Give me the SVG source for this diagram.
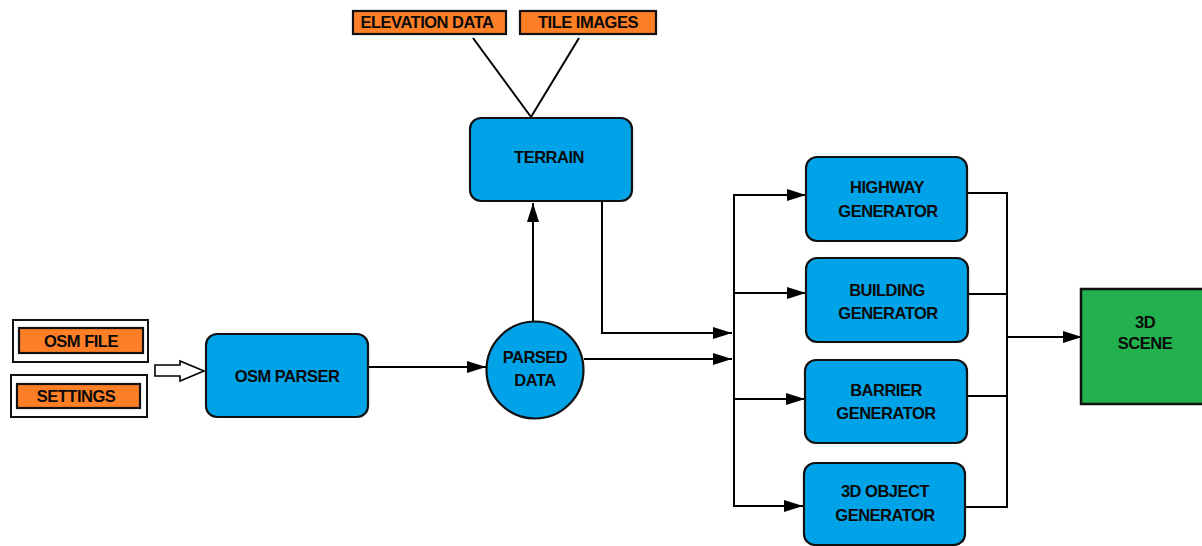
<svg xmlns="http://www.w3.org/2000/svg" width="1202" height="546" viewBox="0 0 1202 546">
<defs>
<marker id="ah" markerUnits="userSpaceOnUse" markerWidth="20" markerHeight="14" refX="19" refY="7" orient="auto">
<path d="M0,1 L19,7 L0,13 Z" fill="#000"/>
</marker>
<style>
.blue{fill:#00A2E8;stroke:#111;stroke-width:2.2}
.org{fill:#FF7F27;stroke:#111;stroke-width:2.2}
.frame{fill:#fff;stroke:#111;stroke-width:2}
.green{fill:#22B14C;stroke:#111;stroke-width:2.5}
text{font-family:"Liberation Sans",Arial,sans-serif;font-weight:bold;font-size:16.5px;letter-spacing:-0.5px;fill:#0a0a0a;text-anchor:middle}
.c line,.c polyline{stroke:#000;stroke-width:2;fill:none}
.arr{marker-end:url(#ah)}
</style>
</defs>
<rect width="1202" height="546" fill="#fff"/>

<g class="c" id="connectors">
<line x1="473" y1="38" x2="531" y2="117"/>
<line x1="579" y1="38" x2="531" y2="117"/>
<line class="arr" x1="368" y1="367" x2="486" y2="367"/>
<line class="arr" x1="533" y1="322" x2="533" y2="203"/>
<polyline class="arr" points="602,202 602,333 732,333"/>
<line class="arr" x1="584" y1="359" x2="732" y2="359"/>
<line x1="734" y1="194" x2="734" y2="507"/>
<line class="arr" x1="733" y1="195" x2="806" y2="195"/>
<line class="arr" x1="733" y1="293" x2="806" y2="293"/>
<line class="arr" x1="733" y1="399" x2="805" y2="399"/>
<line class="arr" x1="733" y1="506" x2="803" y2="506"/>
<line x1="967" y1="193" x2="1008" y2="193"/>
<line x1="968" y1="294" x2="1008" y2="294"/>
<line x1="967" y1="396" x2="1008" y2="396"/>
<line x1="965" y1="507" x2="1008" y2="507"/>
<line x1="1007" y1="192" x2="1007" y2="508"/>
<line class="arr" x1="1007" y1="337" x2="1082" y2="337"/>
<polygon points="155,365 180,365 180,361 204,371 180,381 180,376 155,376" fill="#fff" stroke="#000" stroke-width="1.6"/>
</g>

<g id="osm-file">
<rect class="frame" x="13" y="320" width="135" height="42"/>
<rect class="org" x="19" y="328" width="124" height="25"/>
<text x="81" y="347">OSM FILE</text>
</g>
<g id="settings">
<rect class="frame" x="11" y="375" width="136" height="42"/>
<rect class="org" x="17" y="384" width="123" height="24"/>
<text x="76" y="402">SETTINGS</text>
</g>
<g id="osm-parser">
<rect class="blue" x="206" y="334" width="162" height="83" rx="11"/>
<text x="287" y="382">OSM PARSER</text>
</g>
<g id="elevation-data">
<rect class="org" x="353" y="11" width="153" height="23"/>
<text x="427" y="28">ELEVATION DATA</text>
</g>
<g id="tile-images">
<rect class="org" x="520" y="11" width="136" height="23"/>
<text x="588" y="28">TILE IMAGES</text>
</g>
<g id="terrain">
<rect class="blue" x="470" y="118" width="162" height="83" rx="11"/>
<text x="549" y="163">TERRAIN</text>
</g>
<g id="parsed-data">
<circle class="blue" cx="535" cy="370" r="48.5"/>
<text x="535" y="363">PARSED</text>
<text x="535" y="386">DATA</text>
</g>
<g id="highway-generator">
<rect class="blue" x="806" y="157" width="161" height="84" rx="11"/>
<text x="887" y="193">HIGHWAY</text>
<text x="888" y="217">GENERATOR</text>
</g>
<g id="building-generator">
<rect class="blue" x="806" y="258" width="162" height="84" rx="11"/>
<text x="887" y="296">BUILDING</text>
<text x="888" y="319">GENERATOR</text>
</g>
<g id="barrier-generator">
<rect class="blue" x="805" y="360" width="162" height="83" rx="11"/>
<text x="886" y="396">BARRIER</text>
<text x="886" y="419">GENERATOR</text>
</g>
<g id="object-generator">
<rect class="blue" x="804" y="463" width="161" height="82" rx="11"/>
<text x="885" y="497">3D OBJECT</text>
<text x="885" y="521">GENERATOR</text>
</g>
<g id="scene">
<rect class="green" x="1081" y="289" width="126" height="115"/>
<text x="1145" y="328">3D</text>
<text x="1145" y="349">SCENE</text>
</g>
</svg>
